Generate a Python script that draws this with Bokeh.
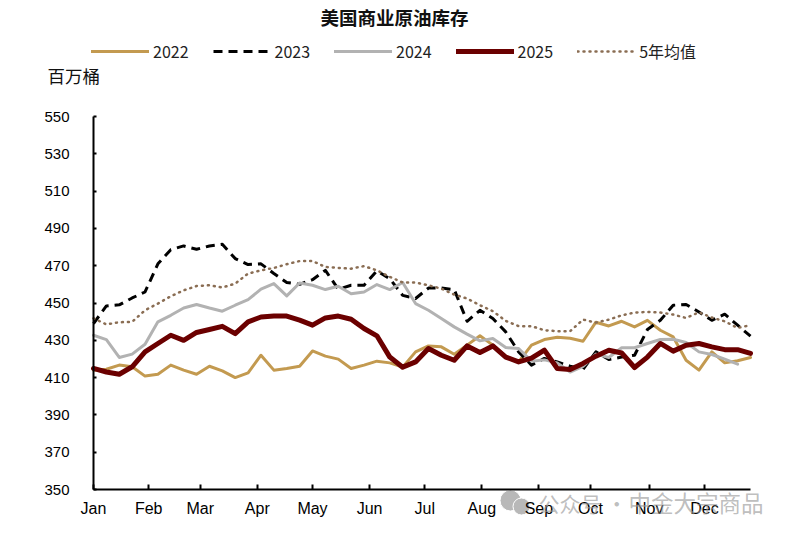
from bokeh.plotting import figure
from bokeh.embed import file_html
from bokeh.resources import INLINE
from bokeh.models import Label, Legend, LegendItem, FixedTicker, Range1d
from bokeh.core.properties import value

title_text = "美国商业原油库存"
unit_text = "百万桶"
watermark_a = "公众号 ·"
watermark_b = "中金大宗商品"
months = ["Jan", "Feb", "Mar", "Apr", "May", "Jun", "Jul", "Aug", "Sep", "Oct", "Nov", "Dec"]
month_days = [0, 30, 58, 89, 119, 150, 180, 211, 242, 270, 302, 332]
y_ticks = [350, 370, 390, 410, 430, 450, 470, 490, 510, 530, 550]

s2022 = [414, 414.5, 416.7, 415.8, 410.8, 411.8, 416.7, 414, 411.8, 416.1, 413.6, 410, 412.5, 422, 414, 414.9, 416.1, 424.3, 421.5, 419.9,
         414.9, 416.7, 418.8, 417.9, 415.6, 423.8, 427, 426.5, 422.5, 427.4, 432.4, 427.4, 421.5, 418.4, 427.4, 430.4,
         431.6, 431.1, 429.5, 439.7, 437.7, 440.2, 437.2, 440.7, 435.4, 431.8, 419.3, 414, 423.8, 417.9, 419, 420.8]
s2023 = [439, 448.4, 449, 452.7, 455.9, 471, 478.6, 480.6, 478.8, 480.6, 481.5, 473.8, 470.6, 471, 465.8, 461, 460, 462.5, 467.5, 457.4,
         459.5, 459.5, 467.2, 463, 454.1, 452.4, 458, 458, 457.2, 440.2, 446.1, 441.7, 434.5, 423.8, 416.7, 420.3,
         418.4, 416.1, 414.4, 423.8, 419.7, 421, 422, 435.8, 440.7, 448.8, 449.2, 445.2, 440.7, 444, 438.1, 432.2]
s2024 = [432.7, 430.4, 420.8, 422.6, 427.9, 439.9, 443.4, 447.3, 449.2, 447.3, 445.6, 448.8, 451.8, 457.4, 460.4, 453.8, 460.7, 459.5, 457.2, 459,
         455, 455.9, 459.9, 457.2, 461, 449.7, 446.1, 441.7, 437.2, 433.3, 429.7, 431, 426.1, 425.6, 418.8, 419.5,
         417.9, 413, 416, 422.6, 420.8, 426, 426, 428.3, 430.4, 430.6, 428.8, 423.8, 422.4, 419.9, 417.2]
s2025 = [414.9, 413, 411.8, 415.8, 423.8, 428.3, 432.7, 430, 434.2, 435.8, 437.5, 433.6, 439.9, 442.5, 443, 443, 440.8, 438.1, 442, 443,
         441.3, 436.3, 432.4, 421, 415.6, 418.4, 425.6, 422, 419.3, 427, 423.5, 427, 421, 418.4, 420.4, 424.7,
         414.9, 414.4, 417.6, 421.5, 424.7, 423.2, 415.4, 421, 428.3, 424.2, 427.4, 428.3, 426.5, 425, 425, 423]
s5yr = [441.8, 438.5, 439.7, 439.9, 446.1, 449.7, 453.6, 456.8, 459.1, 459.5, 458.3, 460.4, 465.8, 467.5, 468.8, 470.8, 472.5, 472.5, 469.3, 468.8,
        468.4, 469.8, 467.5, 464, 461, 461, 459.5, 457.7, 454.5, 452.4, 448.8, 445.6, 440.4, 437.6, 437.6, 435.4,
        434.9, 434.9, 441.1, 439.5, 441.1, 443.4, 444.9, 445.2, 444.9, 443.8, 442, 445, 442.2, 440.2, 436.6, 438.1]
week_days = [7 * i for i in range(52)]

FONT = "Liberation Sans"
CJK = "Noto Sans CJK SC"

W, H = 780, 530
X0, Y0, XS, YS = 93, 489, 657 / 357, 373 / 200

def day(px):
    return (px - X0) / XS
def inv(py):
    return 350 + (Y0 - py) / YS

p = figure(frame_width=W, frame_height=H, min_border=0,
           x_range=Range1d(day(0), day(W)), y_range=Range1d(inv(H), inv(0)),
           output_backend="svg", toolbar_location=None)
p.grid.visible = False
p.outline_line_color = None
p.background_fill_color = "white"

p.xaxis.ticker = FixedTicker(ticks=month_days)
p.xaxis.major_label_overrides = {d: m for d, m in zip(month_days, months)}
p.yaxis.ticker = FixedTicker(ticks=y_ticks)
p.xaxis.fixed_location = 350
p.yaxis.fixed_location = 0
p.xaxis.bounds = (0, 357)
p.yaxis.bounds = (350, 550)
for ax in (p.xaxis[0], p.yaxis[0]):
    ax.axis_line_color = "black"
    ax.axis_line_width = 2
    ax.major_tick_line_color = "black"
    ax.major_tick_line_width = 2
    ax.major_tick_out = 0
    ax.minor_tick_line_color = None
    ax.major_label_text_font = FONT
    ax.major_label_text_color = "black"
p.xaxis.major_label_text_font_size = "16px"
p.yaxis.major_label_text_font_size = "15px"
p.xaxis.major_tick_in = 5
p.yaxis.major_tick_in = 3
p.xaxis.major_label_standoff = 10
p.yaxis.major_label_standoff = 24
p.xaxis.major_label_orientation = "horizontal"

l22 = p.line(week_days, s2022, line_color="#C39A50", line_width=3, line_join="round", line_cap="round")
l23 = p.line(week_days, s2023, line_color="black", line_width=3, line_dash="9 6", line_join="round")
l24 = p.line(week_days[:len(s2024)], s2024, line_color="#B2B2B2", line_width=3, line_join="round", line_cap="round")
l5y = p.line(week_days, s5yr, line_color="#8A6D53", line_width=2.5, line_dash="1 5", line_cap="round")
l25 = p.line(week_days, s2025, line_color="#6B0000", line_width=5, line_join="round", line_cap="round")

legend = Legend(items=[LegendItem(label="2022", renderers=[l22]),
                       LegendItem(label="2023", renderers=[l23]),
                       LegendItem(label="2024", renderers=[l24]),
                       LegendItem(label="2025", renderers=[l25]),
                       LegendItem(label="5年均值", renderers=[l5y])],
                orientation="horizontal", location=(91, 467),
                border_line_color=None, background_fill_alpha=0,
                glyph_width=58, glyph_height=12, label_standoff=4, spacing=24, padding=0, margin=0,
                label_text_font=CJK, label_text_font_size="16px", label_text_color="#222222")
p.add_layout(legend, "center")

p.add_layout(Label(x=day(320), y=inv(29), text=title_text, text_font=CJK,
                   text_font_style="bold", text_font_size="18.5px", text_color="#111111"))
p.add_layout(Label(x=day(47), y=inv(87), text=unit_text, text_font=CJK,
                   text_font_size="17.5px", text_color="#111111"))
p.scatter([day(510), day(521)], [inv(500), inv(506)], size=[21, 17], marker="circle",
          fill_color="#B8B8B8", line_color="white", line_width=1)
p.add_layout(Label(x=day(538), y=inv(517), text=watermark_a, text_font=CJK,
                   text_font_size="21px", text_color="#999999", text_alpha=0.65))
p.add_layout(Label(x=day(628), y=inv(517), text=watermark_b, text_font=CJK,
                   text_font_size="22.5px", text_color="#999999", text_alpha=0.65))

open("out.html", "w").write(file_html(p, INLINE))
